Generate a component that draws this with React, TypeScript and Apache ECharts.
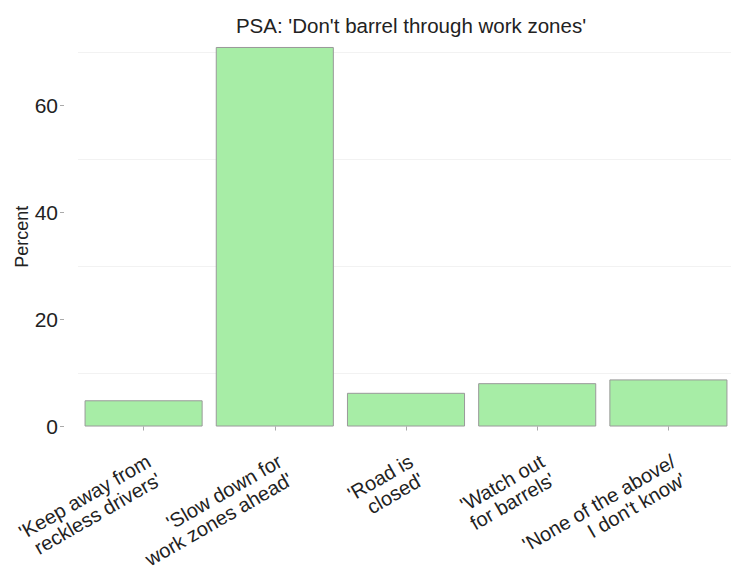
import React, { useEffect, useRef } from "react";
import * as echarts from "echarts";

const titleText = "PSA: 'Don't barrel through work zones'";
const categories = [
  "'Keep away from\nreckless drivers'",
  "'Slow down for\nwork zones ahead'",
  "'Road is\nclosed'",
  "'Watch out\nfor barrels'",
  "'None of the above/\nI don't know'",
];
const percents = [4.9, 70.9, 6.3, 8.1, 8.8];
const yTicks = [0, 20, 40, 60];
const minorGrid = [10, 30, 50, 70];

const FONT = "'Liberation Sans', Arial, Helvetica, sans-serif";

export default function App() {
  const ref = useRef<HTMLDivElement>(null);
  useEffect(() => {
    document.body.style.margin = "0";
    if (!ref.current) return;
    const chart = echarts.init(ref.current, undefined, { renderer: "svg" });
    const maxV = Math.max(...percents);
    const pad = maxV * 0.05;
    chart.setOption({
      animation: false,
      backgroundColor: "#ffffff",
      textStyle: { fontFamily: FONT },
      title: {
        text: titleText,
        left: 406,
        textAlign: "center",
        top: 10,
        textStyle: { fontSize: 20.5, fontWeight: "normal", color: "#222", fontFamily: FONT },
      },
      grid: {
        left: 78,
        right: -3,
        top: 28,
        bottom: 127.5,
        containLabel: false,
        outerBoundsMode: "none",
      },
      xAxis: {
        type: "category",
        data: categories,
        axisLine: { show: false },
        axisTick: { show: true, alignWithLabel: true, length: 4, lineStyle: { color: "#aaa" } },
        axisLabel: {
          rotate: 30,
          interval: 0,
          margin: 5,
          fontSize: 20,
          color: "#222",
          fontFamily: FONT,
          lineHeight: 21,
          align: "right",
          verticalAlign: "top",
          hideOverlap: false,
        },
        splitLine: { show: false },
      },
      yAxis: {
        type: "value",
        min: -pad,
        max: maxV + pad,
        offset: 14,
        name: "Percent",
        nameLocation: "middle",
        nameGap: 33,
        nameMoveOverlap: false,
        nameTextStyle: { fontSize: 18, color: "#222", fontFamily: FONT },
        axisLine: { show: false },
        axisTick: { show: true, length: 4, customValues: yTicks, lineStyle: { color: "#aaa" } },
        axisLabel: { customValues: yTicks, fontSize: 21, color: "#222", margin: 6, fontFamily: FONT },
        splitLine: { show: false },
      },
      series: [
        {
          type: "bar",
          data: percents,
          barWidth: "90%",
          itemStyle: { color: "#a7eda6", borderColor: "#999999", borderWidth: 1 },
          markLine: {
            silent: true,
            symbol: "none",
            label: { show: false },
            lineStyle: { color: "#f2f2f2", width: 1, type: "solid" },
            data: minorGrid.map((v) => ({ yAxis: v })),
            z: 0,
          },
          z: 2,
        },
      ],
    });
    return () => chart.dispose();
  }, []);
  return <div ref={ref} style={{ width: 731, height: 573 }} />;
}
